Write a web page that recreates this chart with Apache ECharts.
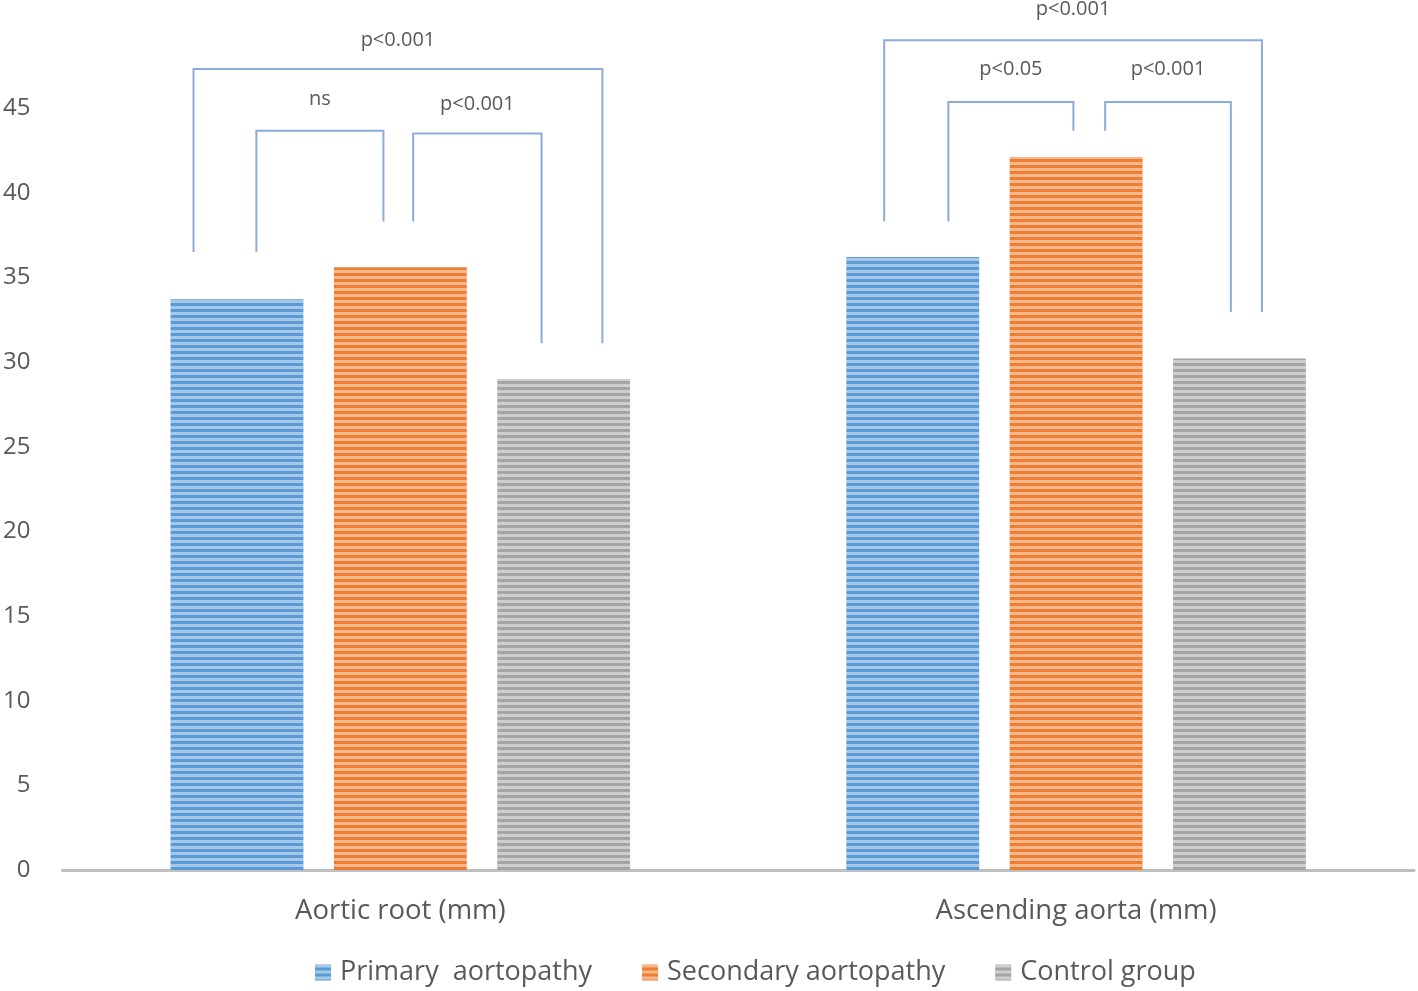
<!DOCTYPE html>
<html>
<head>
<meta charset="utf-8">
<script src="https://cdn.jsdelivr.net/npm/echarts@6/dist/echarts.min.js"></script>
<style>html,body{margin:0;padding:0;background:#fff}#c{width:1418px;height:991px}</style>
</head>
<body>
<div id="c"></div>
<script>
const categories = ['Aortic root (mm)', 'Ascending aorta (mm)'];
const seriesNames = ['Primary  aortopathy', 'Secondary aortopathy', 'Control group'];
const primaryValues = [33.7, 36.2];
const secondaryValues = [35.6, 42.1];
const controlValues = [29.0, 30.2];
const yTicks = [0, 5, 10, 15, 20, 25, 30, 35, 40, 45];
// significance brackets: [category, leftX, rightX (fraction of band from centre), leftEndY, topY, rightEndY, labelY, label]
const brackets = [
  [0, -0.306, 0.299, 36.5, 47.3, 31.1, 49.0, 'p<0.001'],
  [0, -0.213, -0.025, 36.5, 43.65, 38.3, 45.5, 'ns'],
  [0, 0.019, 0.209, 38.3, 43.5, 31.1, 45.2, 'p<0.001'],
  [1, -0.284, 0.275, 38.3, 49.0, 32.95, 50.8, 'p<0.001'],
  [1, -0.189, -0.004, 38.3, 45.35, 43.65, 47.3, 'p<0.05'],
  [1, 0.043, 0.229, 43.65, 45.35, 32.95, 47.3, 'p<0.001']
];

const colors = ['#5b9bd5', '#ed7d31', '#a5a5a5'];
const font = '"Open Sans", "Liberation Sans", Arial, sans-serif';
const decal = {symbol: 'rect', symbolSize: 1, dashArrayX: [1, 0], dashArrayY: [3, 3], rotation: 0, color: 'rgba(255,255,255,0.45)'};

const chart = echarts.init(document.getElementById('c'));
const valueSets = [primaryValues, secondaryValues, controlValues];
const barSeries = seriesNames.map((n, i) => ({
  name: n, type: 'bar', data: valueSets[i],
  barGap: '23%', barCategoryGap: '32%',
  itemStyle: {color: colors[i], decal: decal},
  z: 2
}));

barSeries.push({
  type: 'custom', name: 'brackets', clip: false, z: 5, silent: true,
  data: brackets.map(b => [b[0], b[4]]),
  renderItem: function (params, api) {
    const b = brackets[params.dataIndex];
    const bw = api.size([1, 0])[0];
    const c = api.coord([b[0], 0])[0];
    const xl = c + b[1] * bw, xr = c + b[2] * bw;
    const yl = api.coord([b[0], b[3]])[1];
    const yt = api.coord([b[0], b[4]])[1];
    const yr = api.coord([b[0], b[5]])[1];
    const ylab = api.coord([b[0], b[6]])[1];
    return {
      type: 'group',
      children: [
        {type: 'polyline', shape: {points: [[xl, yl], [xl, yt], [xr, yt], [xr, yr]]},
         style: {stroke: '#8eaadb', lineWidth: 2, fill: null}},
        {type: 'text', x: (xl + xr) / 2, y: ylab,
         style: {text: b[7], fill: '#595959', font: '20px ' + font, textAlign: 'center', textVerticalAlign: 'middle'}}
      ]
    };
  }
});

chart.setOption({
  animation: false,
  color: colors,
  aria: {enabled: false, decal: {show: false}},
  grid: {left: 62, right: 4, top: 108, bottom: 121},
  legend: {
    bottom: 0, left: 310, itemWidth: 16, itemHeight: 16, itemGap: 50, icon: 'rect',
    data: seriesNames,
    textStyle: {fontSize: 27, color: '#595959', fontFamily: font, padding: [0, 0, 0, 4]}
  },
  xAxis: {
    type: 'category', data: categories,
    axisLine: {lineStyle: {color: '#bfbfbf', width: 3}},
    axisTick: {show: false},
    axisLabel: {fontSize: 27.5, color: '#595959', fontFamily: font, margin: 27}
  },
  yAxis: {
    type: 'value', min: yTicks[0], max: yTicks[yTicks.length - 1], interval: 5,
    splitLine: {show: false}, axisLine: {show: false}, axisTick: {show: false},
    axisLabel: {fontSize: 24, color: '#595959', fontFamily: font, margin: 32}
  },
  series: barSeries
});
</script>
</body>
</html>
